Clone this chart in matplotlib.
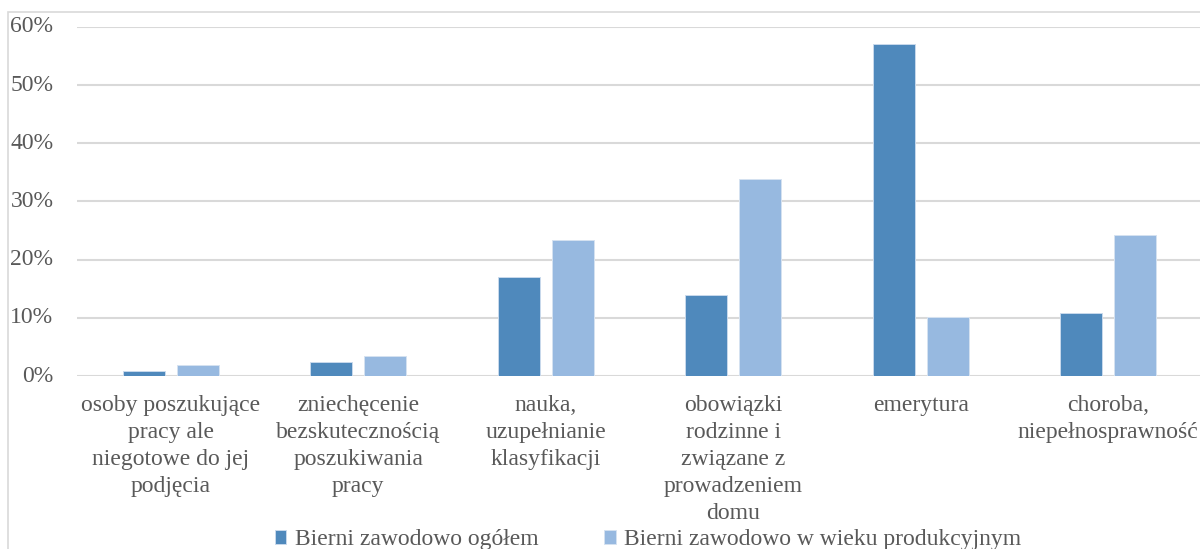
import matplotlib.pyplot as plt
import numpy as np
from matplotlib.patches import Rectangle
from matplotlib.ticker import PercentFormatter

categories = [
    "osoby poszukujące\npracy ale\nniegotowe do jej\npodjęcia",
    "zniechęcenie\nbezskutecznością\nposzukiwania\npracy",
    "nauka,\nuzupełnianie\nklasyfikacji",
    "obowiązki\nrodzinne i\nzwiązane z\nprowadzeniem\ndomu",
    "emerytura",
    "choroba,\nniepełnosprawność",
]
ogolem = [0.009, 0.024, 0.171, 0.140, 0.571, 0.109]
produkcyjny = [0.019, 0.035, 0.233, 0.339, 0.102, 0.243]
series_names = ["Bierni zawodowo ogółem", "Bierni zawodowo w wieku produkcyjnym"]
yticks = [0, 0.1, 0.2, 0.3, 0.4, 0.5, 0.6]

plt.rcParams['font.family'] = ['Liberation Serif', 'DejaVu Serif']
text_col = '#595959'
grid_col = '#D9D9D9'
dark = '#4F89BC'
light = '#97B9E0'
fs = 17

fig = plt.figure(figsize=(12, 5.49), dpi=100)

# outer chart frame (runs past the right and bottom edge)
fig.patches.append(Rectangle((8 / 1200, -0.1), 1.2, 1 - 12 / 549 + 0.1,
                             transform=fig.transFigure, fill=False,
                             edgecolor=grid_col, linewidth=1.2))

ax = fig.add_axes([77 / 1200, 1 - 376 / 549, 1125 / 1200, 349 / 549])

x = np.arange(len(categories))
w = 0.225
off = 0.144
b1 = ax.bar(x - off, ogolem, w, color=dark, edgecolor='#C9D9EC', linewidth=0.7,
            label=series_names[0], zorder=3)
b2 = ax.bar(x + off, produkcyjny, w, color=light, edgecolor='#D5E2F1', linewidth=0.7,
            label=series_names[1], zorder=3)

ax.set_xlim(-0.5, len(categories) - 0.5)
ax.set_ylim(0, 0.6)
ax.set_yticks(yticks)
ax.yaxis.set_major_formatter(PercentFormatter(1.0, decimals=0))
ax.grid(axis='y', color=grid_col, linewidth=1.5, zorder=0)
ax.set_axisbelow(True)
for s in ax.spines.values():
    s.set_visible(False)

ax.set_xticks(x)
ax.set_xticklabels(categories, linespacing=1.37)
ax.tick_params(axis='x', length=0, pad=14, labelsize=fs, labelcolor=text_col)
ax.tick_params(axis='y', length=0, pad=17, labelsize=fs, labelcolor=text_col)
for t in ax.get_yticklabels():
    t.set_verticalalignment('center')

fig.legend(handles=[b1, b2], loc='center', bbox_to_anchor=(648 / 1200, 1 - 540 / 549),
           ncol=2, frameon=False, fontsize=fs, labelcolor=text_col,
           handlelength=0.5, handleheight=0.5, handletextpad=0.35,
           columnspacing=2.8)

fig.savefig('out.png', dpi=100)
